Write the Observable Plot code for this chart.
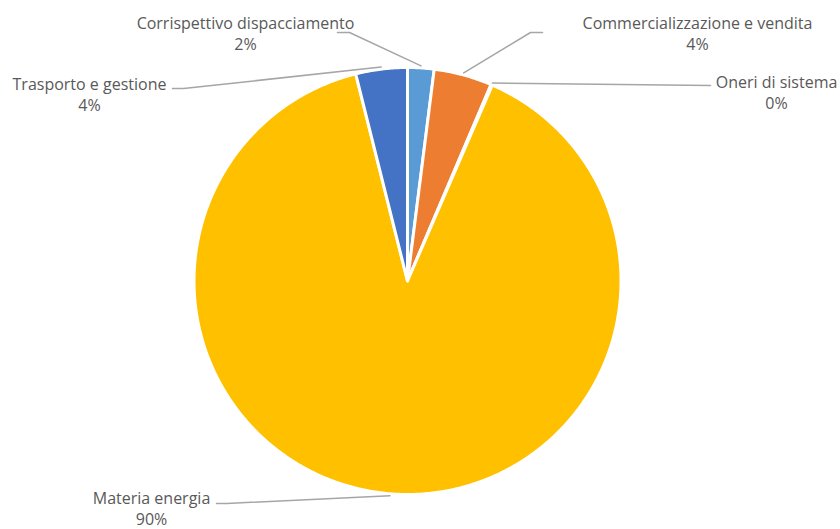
<!DOCTYPE html>
<html>
<head>
<meta charset="utf-8">
<script src="https://cdn.jsdelivr.net/npm/d3@7"></script>
<script src="https://cdn.jsdelivr.net/npm/@observablehq/plot@0.6"></script>
<style>
  html, body { margin: 0; padding: 0; background: #fff; }
  #chart { width: 840px; height: 529px; }
</style>
</head>
<body>
<div id="chart"></div>
<script>
// ---- data ----
const categories = ["Corrispettivo dispacciamento", "Commercializzazione e vendita", "Oneri di sistema", "Materia energia", "Trasporto e gestione"];
const shares = [2.0, 4.4, 0.1, 89.6, 3.9];
const colors = ["#5B9BD5", "#ED7D31", "#A5A5A5", "#FFC000", "#4472C4"];

// ---- layout (pixel coords) ----
const W = 840, H = 529;
const pie = {cx: 407, cy: 280.5, r: 213.5};
// label center x, baseline of last line, leader start and elbow
const labelLayout = [
  {x: 245, y: 49, start: [337, 32], elbow: [349, 32]},
  {x: 697, y: 49, start: [542, 32], elbow: [530, 32]},
  {x: 776, y: 108, start: [710, 85], elbow: null},
  {x: 151, y: 524, start: [216, 503], elbow: [226, 503]},
  {x: 89, y: 110, start: [172, 88], elbow: [183, 88]}
];

const total = d3.sum(shares);
const arcs = d3.pie().sort(null).value(d => d)(shares);
const pt = (a, r) => [pie.cx + r * Math.sin(a), pie.cy - r * Math.cos(a)];

// slice polygons
const slicePts = [];
arcs.forEach((a, i) => {
  slicePts.push({k: i, p: [pie.cx, pie.cy]});
  const n = Math.max(2, Math.ceil((a.endAngle - a.startAngle) / (Math.PI / 360)));
  for (let j = 0; j <= n; j++) {
    const ang = a.startAngle + (a.endAngle - a.startAngle) * j / n;
    slicePts.push({k: i, p: pt(ang, pie.r)});
  }
});

// leader lines
const leaderPts = [];
arcs.forEach((a, i) => {
  const L = labelLayout[i];
  leaderPts.push({k: i, p: L.start});
  if (L.elbow) leaderPts.push({k: i, p: L.elbow});
  leaderPts.push({k: i, p: pt((a.startAngle + a.endAngle) / 2, pie.r + 2)});
});

const labels = categories.map((c, i) => ({
  text: c + "\n" + Math.round(shares[i] / total * 100) + "%",
  x: labelLayout[i].x, y: labelLayout[i].y
}));

const chart = Plot.plot({
  width: W, height: H,
  margin: 0,
  x: {domain: [0, W], range: [0, W], axis: null},
  y: {domain: [0, H], range: [0, H], axis: null},
  style: {background: "#fff", fontFamily: "'Open Sans', sans-serif"},
  marks: [
    Plot.line(slicePts, {
      x: d => d.p[0], y: d => d.p[1], z: "k",
      fill: d => colors[d.k], stroke: "#fff", strokeWidth: 3,
      strokeLinejoin: "round", curve: "linear-closed"
    }),
    Plot.line(leaderPts, {
      x: d => d.p[0], y: d => d.p[1], z: "k",
      stroke: "#A6A6A6", strokeWidth: 1.5
    }),
    Plot.text(labels, {
      x: "x", y: "y", text: "text",
      textAnchor: "middle", lineAnchor: "bottom", lineHeight: 1.3,
      fontSize: 16, fill: "#595959"
    })
  ]
});
document.getElementById("chart").appendChild(chart);
</script>
</body>
</html>
